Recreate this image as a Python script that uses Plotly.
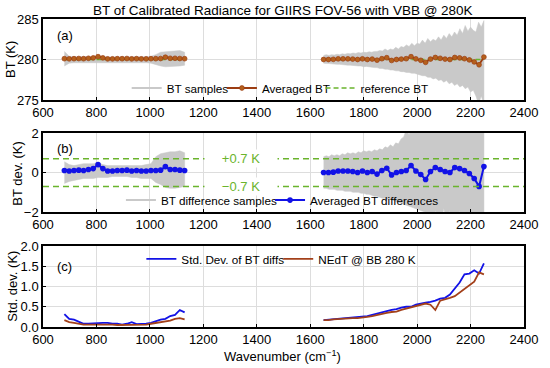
import numpy as np
import plotly.graph_objects as go

# ---------------- data ----------------
ref_bt = 280.0
dev_limit = 0.7

# marker grids (wavenumber, cm-1)
wn1 = np.arange(680, 1131, 18)            # 26 points
wn2 = np.linspace(1650, 2250, 34)         # 34 points
# envelope grid for the second band
env_wn2 = np.arange(1650, 2251, 10)       # 61 points

avg_bt1 = [280.1, 280.08, 280.1, 280.12, 280.1, 280.15, 280.2, 280.35, 280.2, 280.08,
           280.08, 280.1, 280.1, 280.12, 280.08, 280.1, 280.08, 280.08, 280.1, 280.1,
           280.12, 280.28, 280.15, 280.15, 280.12, 280.1]
avg_bt2 = [280.0, 280.0, 280.02, 280.08, 280.08, 280.08, 280.05, 280.0, 280.08, 280.0,
           280.05, 279.92, 280.1, 280.22, 279.88, 280.0, 280.05, 280.1, 280.35, 280.08,
           279.9, 279.65, 280.05, 280.25, 280.15, 280.05, 280.0, 280.25, 280.2, 280.1,
           279.95, 279.7, 279.35, 280.3]

avg_dev1 = [0.1, 0.08, 0.1, 0.12, 0.1, 0.15, 0.2, 0.4, 0.2, 0.08,
            0.08, 0.1, 0.1, 0.12, 0.08, 0.1, 0.08, 0.08, 0.1, 0.1,
            0.12, 0.3, 0.15, 0.15, 0.12, 0.1]
avg_dev2 = [0.0, 0.0, 0.02, 0.08, 0.08, 0.08, 0.05, 0.0, 0.08, 0.0,
            0.05, -0.08, 0.1, 0.22, -0.12, 0.0, 0.05, 0.1, 0.35, 0.08,
            -0.1, -0.35, 0.05, 0.25, 0.15, 0.05, 0.0, 0.25, 0.2, 0.1,
            -0.05, -0.3, -0.7, 0.3]

# BT sample envelopes (K above/below reference)
bt_up1 = [1.0, 0.4, 0.35, 0.35, 0.3, 0.35, 0.35, 0.5, 0.35, 0.3, 0.3, 0.3, 0.3,
          0.3, 0.3, 0.3, 0.35, 0.35, 0.4, 0.6, 0.9, 0.95, 1.0, 1.0, 1.1, 0.9]
bt_lo1 = [-0.8, -0.45, -0.4, -0.4, -0.4, -0.4, -0.4, -0.35, -0.4, -0.4, -0.4, -0.4, -0.4,
          -0.4, -0.4, -0.4, -0.4, -0.4, -0.45, -0.6, -0.8, -0.9, -0.9, -0.85, -0.8, -0.7]
bt_up2 = [0.5, 0.6, 0.5, 0.6, 0.55, 0.65, 0.6, 0.7, 0.65, 0.75,
          0.7, 0.8, 0.75, 0.85, 0.8, 0.9, 0.85, 0.95, 0.9, 1.0,
          1.0, 1.1, 1.05, 1.3, 1.1, 1.3, 1.2, 1.5, 1.3, 1.6,
          1.5, 1.8, 1.6, 2.0, 1.7, 2.0, 1.9, 2.4, 2.0, 2.6,
          2.2, 2.5, 2.3, 2.8, 2.4, 3.0, 2.6, 3.2, 2.8, 3.4,
          3.0, 3.8, 3.2, 4.2, 3.5, 4.0, 3.6, 3.4, 4.6, 4.0, 4.8]
bt_lo2 = [-0.45, -0.5, -0.5, -0.55, -0.55, -0.6, -0.6, -0.65, -0.65, -0.7,
          -0.7, -0.75, -0.75, -0.8, -0.8, -0.9, -0.85, -0.95, -0.95, -1.0,
          -1.0, -1.1, -1.1, -1.2, -1.2, -1.3, -1.3, -1.4, -1.4, -1.5,
          -1.5, -1.6, -1.6, -1.7, -1.7, -1.8, -1.9, -2.0, -2.0, -2.2,
          -2.2, -2.4, -2.3, -2.6, -2.5, -2.8, -2.6, -3.0, -2.8, -3.2,
          -3.0, -3.4, -3.2, -3.6, -3.4, -4.0, -3.8, -4.5, -5.5, -4.5, -5.5]

# BT difference sample envelopes (K)
dv_up1 = [0.55, 0.4, 0.35, 0.4, 0.45, 0.45, 0.45, 0.5, 0.4, 0.35, 0.35, 0.35, 0.35,
          0.35, 0.35, 0.35, 0.35, 0.4, 0.45, 0.8, 0.95, 1.0, 1.05, 1.05, 1.1, 1.0]
dv_lo1 = [-0.55, -0.45, -0.4, -0.35, -0.3, -0.3, -0.3, -0.25, -0.25, -0.25, -0.2, -0.2, -0.2,
          -0.2, -0.25, -0.25, -0.3, -0.3, -0.3, -0.5, -0.6, -0.75, -0.8, -0.8, -0.75, -0.7]
dv_up2 = [0.8, 0.85, 0.8, 0.9, 0.85, 0.9, 0.85, 0.95, 0.9, 1.0,
          0.95, 1.0, 0.95, 1.05, 1.0, 1.1, 1.05, 1.1, 1.05, 1.15,
          1.1, 1.2, 1.15, 1.3, 1.25, 1.4, 1.3, 1.5, 1.45, 1.7,
          1.8, 2.2, 1.9, 2.5, 2.2, 2.6, 2.5, 3.0, 2.8, 3.0,
          3.0, 3.0, 3.0, 3.0, 3.0, 3.0, 3.0, 3.0, 3.0, 3.0,
          3.0, 3.0, 3.0, 3.0, 3.0, 3.0, 3.0, 3.0, 3.0, 3.0, 3.0]
dv_lo2 = [-0.8, -0.8, -0.85, -0.85, -0.85, -0.9, -0.9, -0.9, -0.95, -0.95,
          -0.95, -1.0, -1.0, -1.0, -1.05, -1.05, -1.1, -1.1, -1.15, -1.2,
          -1.2, -1.25, -1.3, -1.3, -1.35, -1.35, -1.4, -1.45, -1.5, -1.55,
          -1.6, -1.65, -1.7, -1.75, -1.8, -1.85, -1.9, -1.95, -2.0, -2.1,
          -2.3, -2.5, -1.9, -2.6, -2.5, -1.8, -2.6, -1.9, -2.8, -3.0,
          -3.0, -1.9, -3.0, -2.0, -3.0, -3.0, -3.0, -3.0, -3.0, -3.0, -3.0]

std1 = [0.32, 0.2, 0.18, 0.12, 0.08, 0.08, 0.09, 0.1, 0.1, 0.1, 0.08, 0.08, 0.06,
        0.08, 0.12, 0.07, 0.07, 0.08, 0.1, 0.15, 0.18, 0.2, 0.27, 0.3, 0.42, 0.36]
nedt1 = [0.17, 0.12, 0.1, 0.08, 0.06, 0.06, 0.06, 0.07, 0.06, 0.06, 0.06, 0.05, 0.05,
         0.05, 0.06, 0.05, 0.06, 0.06, 0.08, 0.1, 0.12, 0.14, 0.16, 0.2, 0.22, 0.19]
std2 = [0.17, 0.18, 0.2, 0.21, 0.22, 0.22, 0.23, 0.24, 0.25, 0.27,
        0.3, 0.33, 0.36, 0.4, 0.42, 0.44, 0.48, 0.5, 0.5, 0.55,
        0.58, 0.6, 0.62, 0.65, 0.7, 0.72, 0.8, 0.95, 1.1, 1.3,
        1.32, 1.4, 1.32, 1.57]
nedt2 = [0.17, 0.17, 0.19, 0.2, 0.2, 0.21, 0.22, 0.22, 0.23, 0.25,
         0.27, 0.3, 0.32, 0.35, 0.37, 0.38, 0.42, 0.45, 0.48, 0.52,
         0.55, 0.58, 0.55, 0.42, 0.65, 0.68, 0.72, 0.76, 0.85, 0.95,
         1.02, 1.12, 1.35, 1.3]

x_ticks = [600, 800, 1000, 1200, 1400, 1600, 1800, 2000, 2200, 2400]

# ---------------- style ----------------
FONT = "Liberation Sans, Arial, sans-serif"
GRAY = "#c9c9c9"
BROWN = "#9c3d12"
BROWN_M = "#b4601c"
BLUE = "#1212e6"
GREEN = "#6ab42c"
NEDT = "#a3401a"
DASH = "5px,3px"

fig = go.Figure()

def band(x, up, lo, offset, xa, ya):
    xs = list(x) + list(x)[::-1]
    ys = [offset + v for v in up] + [offset + v for v in lo][::-1]
    return go.Scatter(x=xs, y=ys, fill="toself", fillcolor=GRAY, mode="lines",
                      line=dict(color=GRAY, width=0.5), showlegend=False,
                      hoverinfo="skip", xaxis=xa, yaxis=ya)

# ---- panel (a) ----
fig.add_trace(band(wn1, bt_up1, bt_lo1, ref_bt, "x", "y"))
fig.add_trace(band(env_wn2, bt_up2, bt_lo2, ref_bt, "x", "y"))
fig.add_trace(go.Scatter(x=[None], y=[None], mode="lines", line=dict(color=GRAY, width=2),
                         name="BT samples", legend="legend", xaxis="x", yaxis="y"))
for xx in (wn1, wn2):
    fig.add_trace(go.Scatter(x=[xx[0], xx[-1]], y=[ref_bt, ref_bt], mode="lines",
                             line=dict(color=GREEN, width=1.3, dash=DASH),
                             showlegend=False, xaxis="x", yaxis="y"))
for i, (xx, yy) in enumerate([(wn1, avg_bt1), (wn2, avg_bt2)]):
    fig.add_trace(go.Scatter(x=xx, y=yy, mode="lines+markers",
                             line=dict(color=BROWN, width=1.8),
                             marker=dict(color=BROWN_M, size=4.8, line=dict(color=BROWN, width=0.7)),
                             name="Averaged BT", showlegend=(i == 0), legend="legend2",
                             xaxis="x", yaxis="y"))
fig.add_trace(go.Scatter(x=[None], y=[None], mode="lines",
                         line=dict(color=GREEN, width=1.3, dash=DASH),
                         name="reference BT", legend="legend3", xaxis="x", yaxis="y"))

# ---- panel (b) ----
fig.add_trace(band(wn1, dv_up1, dv_lo1, 0.0, "x2", "y2"))
fig.add_trace(band(env_wn2, dv_up2, dv_lo2, 0.0, "x2", "y2"))
fig.add_trace(go.Scatter(x=[None], y=[None], mode="lines", line=dict(color=GRAY, width=2),
                         name="BT difference samples", legend="legend4", xaxis="x2", yaxis="y2"))
for i, (xx, yy) in enumerate([(wn1, avg_dev1), (wn2, avg_dev2)]):
    fig.add_trace(go.Scatter(x=xx, y=yy, mode="lines+markers",
                             line=dict(color=BLUE, width=2),
                             marker=dict(color=BLUE, size=5.6),
                             name="Averaged BT differences", showlegend=(i == 0),
                             legend="legend5", xaxis="x2", yaxis="y2"))

# ---- panel (c) ----
for i, (xx, yy) in enumerate([(wn1, std1), (wn2, std2)]):
    fig.add_trace(go.Scatter(x=xx, y=yy, mode="lines", line=dict(color=BLUE, width=1.8),
                             name="Std. Dev. of BT diffs", showlegend=(i == 0),
                             legend="legend6", xaxis="x3", yaxis="y3"))
for i, (xx, yy) in enumerate([(wn1, nedt1), (wn2, nedt2)]):
    fig.add_trace(go.Scatter(x=xx, y=yy, mode="lines", line=dict(color=NEDT, width=1.8),
                             name="NEdT @ BB 280 K", showlegend=(i == 0),
                             legend="legend7", xaxis="x3", yaxis="y3"))

# ---------------- layout ----------------
axis_common = dict(range=[600, 2400], tickvals=x_ticks, showgrid=True, gridcolor="#dddddd",
                   gridwidth=1, showline=True, linecolor="black", linewidth=1.5, mirror=True,
                   ticks="inside", ticklen=3, tickcolor="black", zeroline=False,
                   tickfont=dict(size=13, color="black"))
yaxis_common = dict(showgrid=True, gridcolor="#dddddd", gridwidth=1, showline=True,
                    linecolor="black", linewidth=1.5, mirror=True, ticks="inside", ticklen=3,
                    tickcolor="black", zeroline=False, tickfont=dict(size=13, color="black"))

def leg(x, y):
    return dict(x=x, y=y, orientation="h", bgcolor="rgba(0,0,0,0)",
                font=dict(size=11.7, color="black"), itemwidth=30,
                xanchor="left", yanchor="middle", borderwidth=0)

fig.update_layout(
    width=550, height=368,
    margin=dict(l=43, r=18, t=19, b=41),
    paper_bgcolor="white", plot_bgcolor="white",
    font=dict(family=FONT, size=13, color="black"),
    xaxis=dict(domain=[0, 1], anchor="y", **axis_common),
    yaxis=dict(domain=[0.737, 1], anchor="x", range=[275, 285], tickvals=[275, 280, 285], **yaxis_common),
    xaxis2=dict(domain=[0, 1], anchor="y2", **axis_common),
    yaxis2=dict(domain=[0.373, 0.630], anchor="x2", range=[-2, 2], tickvals=[-2, 0, 2], **yaxis_common),
    xaxis3=dict(domain=[0, 1], anchor="y3", **axis_common),
    yaxis3=dict(domain=[0, 0.263], anchor="x3", range=[0, 2], tickvals=[0, 0.5, 1, 1.5, 2],
                tickformat=".1f", **yaxis_common),
    legend=leg(0.174, 0.776),
    legend2=leg(0.372, 0.776),
    legend3=leg(0.577, 0.776),
    legend4=leg(0.162, 0.412),
    legend5=leg(0.472, 0.412),
    legend6=leg(0.2045, 0.221),
    legend7=leg(0.489, 0.221),
    showlegend=True,
    shapes=[
        dict(type="line", xref="x2 domain", yref="y2", x0=0, x1=1, y0=dev_limit, y1=dev_limit,
             line=dict(color=GREEN, width=1.5, dash="6px,4px"), layer="above"),
        dict(type="line", xref="x2 domain", yref="y2", x0=0, x1=1, y0=-dev_limit, y1=-dev_limit,
             line=dict(color=GREEN, width=1.5, dash="6px,4px"), layer="above"),
    ],
    annotations=[
        dict(text="BT of Calibrated Radiance for GIIRS FOV-56 with VBB @ 280K", xref="paper",
             yref="paper", x=0.498, y=1.029, xanchor="center", yanchor="middle", showarrow=False,
             font=dict(size=13.5)),
        dict(text="(a)", xref="paper", yref="paper", x=0.025, y=0.948, showarrow=False,
             xanchor="left", yanchor="middle", font=dict(size=13)),
        dict(text="(b)", xref="paper", yref="paper", x=0.025, y=0.578, showarrow=False,
             xanchor="left", yanchor="middle", font=dict(size=13)),
        dict(text="(c)", xref="paper", yref="paper", x=0.025, y=0.195, showarrow=False,
             xanchor="left", yanchor="middle", font=dict(size=13)),
        dict(text=f"+{dev_limit} K", xref="x2", yref="y2", x=1340, y=dev_limit, showarrow=False,
             xanchor="center", yanchor="middle",
             bgcolor="white", width=70, font=dict(size=13, color=GREEN)),
        dict(text=f"\u2212{dev_limit} K", xref="x2", yref="y2", x=1340, y=-dev_limit, showarrow=False,
             xanchor="center", yanchor="middle",
             bgcolor="white", width=70, font=dict(size=13, color=GREEN)),
        dict(text="BT (K)", xref="paper", yref="paper", x=-0.068, y=0.868, textangle=-90,
             showarrow=False, xanchor="center", yanchor="middle", font=dict(size=13)),
        dict(text="BT dev. (K)", xref="paper", yref="paper", x=-0.052, y=0.501, textangle=-90,
             showarrow=False, xanchor="center", yanchor="middle", font=dict(size=13)),
        dict(text="Std. dev. (K)", xref="paper", yref="paper", x=-0.064, y=0.131, textangle=-90,
             showarrow=False, xanchor="center", yanchor="middle", font=dict(size=13)),
        dict(text="Wavenumber (cm<sup>\u22121</sup>)", xref="paper", yref="paper", x=0.498,
             y=-0.094, showarrow=False, xanchor="center", yanchor="middle", font=dict(size=13)),
    ],
)

fig.write_html("out.html", config={"displayModeBar": False},
               post_script="document.body.style.margin='0px';")
